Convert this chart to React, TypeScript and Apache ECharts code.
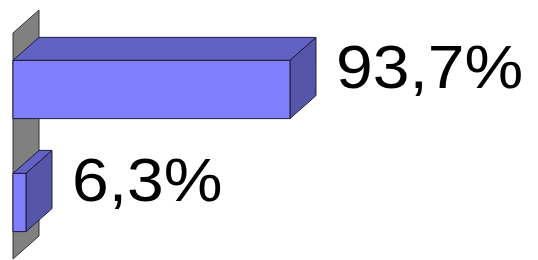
import React, { useEffect, useRef } from "react";
import * as echarts from "echarts";

const categories = ["A", "B"];
const values = [93.7, 6.3];
const axisMin = 2;
const axisMax = 100;

export default function App() {
  const ref = useRef<HTMLDivElement>(null);
  useEffect(() => {
    const chart = echarts.init(ref.current!, null, { renderer: "svg" });
    const DX = 26;
    const DY = -23;
    const fmt = (v: number) => v.toFixed(1).replace(".", ",") + "%";
    chart.setOption({
      animation: false,
      grid: { left: 13, top: 33, width: 296, height: 226, containLabel: false },
      xAxis: { type: "value", min: axisMin, max: axisMax, show: false },
      yAxis: { type: "category", data: categories, inverse: true, show: false },
      series: [
        {
          type: "custom",
          silent: true,
          data: [[axisMin]],
          renderItem: (params: any) => {
            const cs = params.coordSys;
            const x0 = cs.x;
            const y0 = cs.y;
            const y1 = cs.y + cs.height;
            return {
              type: "polygon",
              shape: {
                points: [
                  [x0, y0],
                  [x0 + DX, y0 + DY],
                  [x0 + DX, y1 + DY],
                  [x0, y1],
                ],
              },
              style: { fill: "#808080", stroke: "#333333", lineWidth: 1 },
            };
          },
        },
        {
          type: "custom",
          silent: true,
          data: values.map((v, i) => [v, i]),
          renderItem: (params: any, api: any) => {
            const v = api.value(0);
            const idx = api.value(1);
            const start = api.coord([axisMin, idx]);
            const end = api.coord([v, idx]);
            const band = api.size([0, 1])[1];
            const h = band * 0.515;
            const xl = start[0];
            const xr = end[0];
            const yt = end[1] - h / 2;
            const yb = end[1] + h / 2;
            const stroke = "#1c1c40";
            return {
              type: "group",
              children: [
                {
                  type: "polygon",
                  shape: { points: [[xl, yt], [xl + DX, yt + DY], [xr + DX, yt + DY], [xr, yt]] },
                  style: { fill: "#6262C2", stroke, lineWidth: 1 },
                },
                {
                  type: "polygon",
                  shape: { points: [[xr, yt], [xr + DX, yt + DY], [xr + DX, yb + DY], [xr, yb]] },
                  style: { fill: "#5656A8", stroke, lineWidth: 1 },
                },
                {
                  type: "rect",
                  shape: { x: xl, y: yt, width: xr - xl, height: yb - yt },
                  style: { fill: "#8080FF", stroke, lineWidth: 1 },
                },
                {
                  type: "text",
                  x: xr + DX + 20,
                  y: end[1] + DY,
                  scaleX: 1.065,
                  style: {
                    text: fmt(v),
                    fill: "#000000",
                    font: "62px 'Liberation Sans', Arial, sans-serif",
                    textAlign: "left",
                    textVerticalAlign: "middle",
                  },
                },
              ],
            };
          },
        },
      ],
    });
    return () => chart.dispose();
  }, []);
  return <div ref={ref} style={{ width: 538, height: 260, position: "absolute", left: 0, top: 0 }} />;
}
